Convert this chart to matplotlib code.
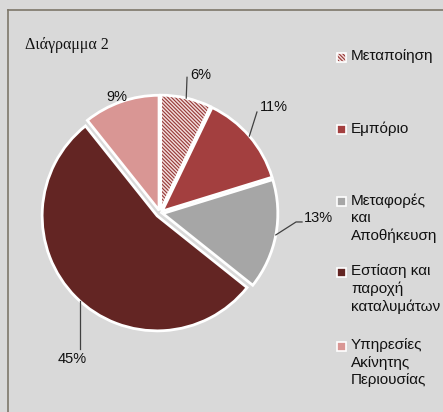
import numpy as np
import matplotlib.pyplot as plt
from matplotlib.patches import Wedge, Rectangle
from matplotlib.lines import Line2D

# data
categories = ["Μεταποίηση", "Εμπόριο", "Μεταφορές\nκαι\nΑποθήκευση",
              "Εστίαση και\nπαροχή\nκαταλυμάτων", "Υπηρεσίες\nΑκίνητης\nΠεριουσίας"]
values = [6, 11, 13, 45, 9]
pct_labels = ["6%", "11%", "13%", "45%", "9%"]
colors = ["#f2dcdb", "#a33f3f", "#a6a6a6", "#632523", "#d99694"]

W, H = 443, 412
BG = "#d9d9d9"
plt.rcParams["hatch.linewidth"] = 0.8

def fx(px):
    return px / W

def fy(py):
    return 1 - py / H

fig = plt.figure(figsize=(W / 100, H / 100), dpi=100)
fig.patch.set_facecolor(BG)

# chart area border (top and left visible)
fig.add_artist(Line2D([fx(8), fx(8)], [fy(10), 0], color="#7d776a", lw=1.2))
fig.add_artist(Line2D([fx(8), 1], [fy(10), fy(10)], color="#7d776a", lw=1.2))

fig.text(fx(25), fy(45), "Διάγραμμα 2", family="Liberation Serif", fontsize=11.5,
         va="center", ha="left", color="#111111")

# pie axes: centre at (160, 213) px, unit radius = 115 px
R = 115
half = 155
ax = fig.add_axes([fx(160 - half), 1 - (213 + half) / H, 2 * half / W, 2 * half / H])
ax.set_facecolor(BG)

wedges, _ = ax.pie(values, colors=colors, startangle=90, counterclock=False,
                   explode=[0.025, 0.025, 0.025, 0.035, 0.025],
                   wedgeprops=dict(edgecolor="white", linewidth=2))
ax.set_xlim(-half / R, half / R)
ax.set_ylim(-half / R, half / R)
ax.axis("off")

# hatched first slice
w0 = wedges[0]
w0.set_edgecolor("#953735")
w0.set_linewidth(0)
w0.set_hatch("\\" * 9)
ax.add_patch(Wedge(w0.center, w0.r, w0.theta1, w0.theta2, fill=False,
                   edgecolor="white", lw=2))

# percentage labels and leader lines
label_xy = [(0.26, 1.20), (0.87, 0.92), (1.255, -0.04), (-0.76, -1.27), (-0.374, 1.01)]
label_ha = ["left", "left", "left", "center", "center"]
leader_pts = [[(0.235, 1.18)], [(0.843, 0.878)], [(1.183, -0.078), (1.235, -0.078)],
              [(-0.70, -1.183)], []]

for i, (w, txt, xy, ha, pts) in enumerate(zip(wedges, pct_labels, label_xy, label_ha, leader_pts)):
    if pts:
        mid = np.deg2rad((w.theta1 + w.theta2) / 2)
        cx, cy = w.center
        start = (cx + w.r * np.cos(mid), cy + w.r * np.sin(mid))
        if i == 3:
            start = (pts[0][0], cy - np.sqrt(w.r ** 2 - (pts[0][0] - cx) ** 2))
        xs = [start[0]] + [p[0] for p in pts]
        ys = [start[1]] + [p[1] for p in pts]
        ax.plot(xs, ys, color="#404040", lw=0.9)
    ax.text(xy[0], xy[1], txt, ha=ha, va="center", fontsize=10.5,
            family="Liberation Sans", color="#111111")

# legend
leg_y = [57, 129.5, 201, 272, 346]
for i, (lab, col) in enumerate(zip(categories, colors)):
    yc = leg_y[i]
    sq = Rectangle((fx(337), fy(yc + 4.5)), 9 / W, 9 / H, transform=fig.transFigure,
                   facecolor=col, edgecolor="white", lw=1.2)
    if i == 0:
        sq.set_edgecolor("#953735")
        sq.set_linewidth(0)
        sq.set_hatch("\\" * 9)
        fig.add_artist(sq)
        fig.add_artist(Rectangle((fx(337), fy(yc + 4.5)), 9 / W, 9 / H,
                                 transform=fig.transFigure, fill=False,
                                 edgecolor="white", lw=1.2))
    else:
        fig.add_artist(sq)
    fig.text(fx(351), fy(yc - 8), lab, ha="left", va="top", fontsize=11,
             family="Liberation Sans", linespacing=1.32, color="#111111")

fig.savefig("out.png", dpi=100, facecolor=BG)
